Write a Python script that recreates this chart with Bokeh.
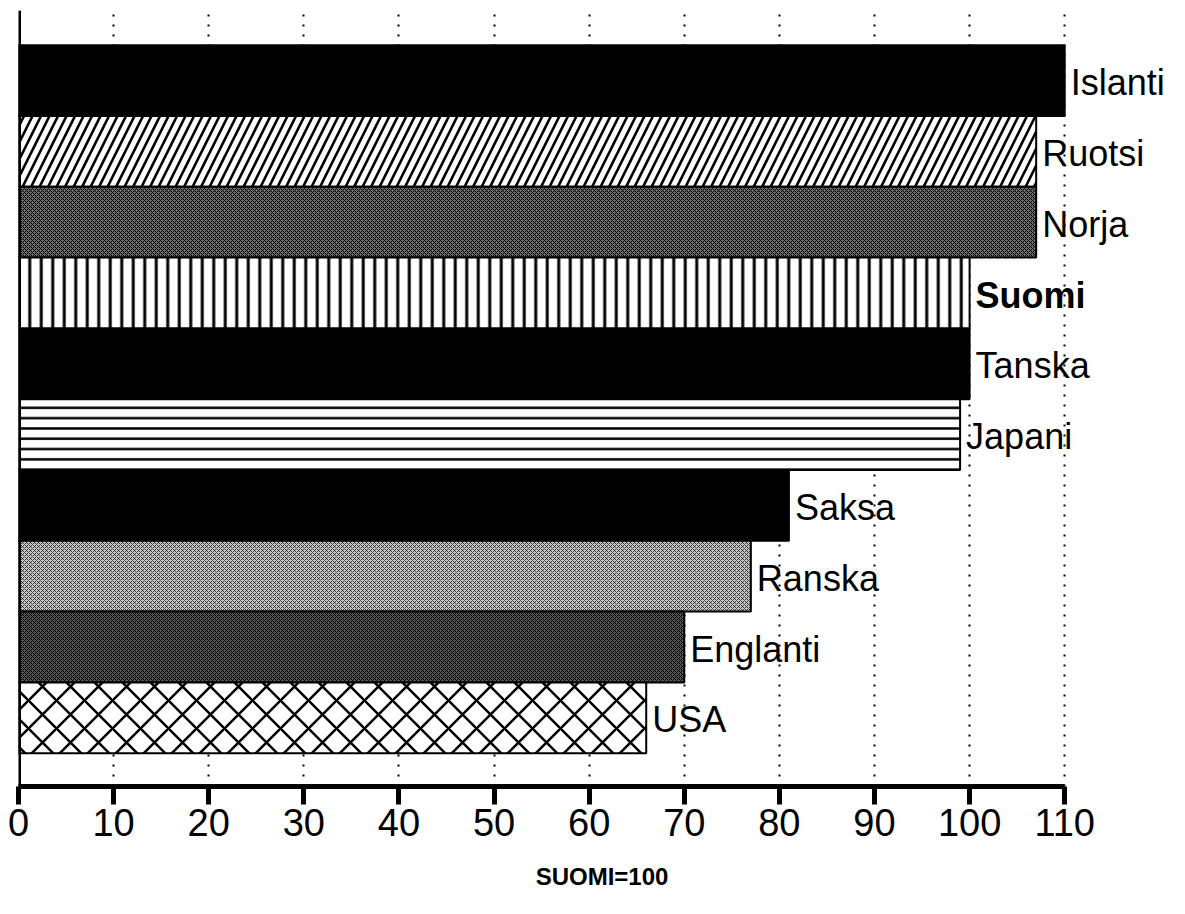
from bokeh.plotting import figure
from bokeh.models import ColumnDataSource, FixedTicker, Span, Range1d
from bokeh.core.properties import value
from bokeh.embed import file_html
from bokeh.resources import INLINE

# data (top to bottom)
countries = ["Islanti", "Ruotsi", "Norja", "Suomi", "Tanska", "Japani",
             "Saksa", "Ranska", "Englanti", "USA"]
values = [110, 107, 107, 100, 100, 99, 81, 77, 70, 66]
x_ticks = [0, 10, 20, 30, 40, 50, 60, 70, 80, 90, 100, 110]
axis_title = "SUOMI=100"

# styles
fills = ["black", "white", "#6e6e6e", "white", "black", "white",
         "black", "#c8c8c8", "#555555", "white"]
hatches = [" ", "/", "x", "|", " ", "-", " ", "x", "x", "x"]
hatch_scales = [12, 17, 4, 11.5, 12, 10.3, 12, 4, 4, 28]
hatch_weights = [1, 2.6, 1, 3, 1, 2.5, 1, 0.7, 1, 2.5]
font_styles = ["normal", "normal", "normal", "bold", "normal", "normal",
               "normal", "normal", "normal", "normal"]

n = len(countries)
ypos = [n - 1 - i for i in range(n)]

src = ColumnDataSource(dict(y=ypos, v=values, name=countries, fill=fills,
                            hatch=hatches, hs=hatch_scales, hw=hatch_weights,
                            fs=font_styles))

p = figure(width=1185, height=896, output_backend="svg", toolbar_location=None,
           x_range=Range1d(0, 122.7), y_range=Range1d(-0.97, 9.99),
           min_border_left=18, min_border_right=0, min_border_top=10,
           min_border_bottom=110)
p.outline_line_color = None
p.background_fill_color = "white"
p.border_fill_color = "white"

p.hbar(y="y", right="v", left=0, height=1, source=src, fill_color="fill",
       line_color="black", line_width=2, hatch_pattern="hatch",
       hatch_scale="hs", hatch_weight="hw", hatch_color="black")

p.text(x="v", y="y", text="name", source=src, x_offset=6, y_offset=2,
       text_baseline="middle", text_align="left",
       text_font=value("Liberation Sans"), text_font_size="36px",
       text_font_style="fs", text_color="black")

p.add_layout(Span(location=0, dimension="height", line_color="black",
                  line_width=5))

p.yaxis.visible = False
p.ygrid.visible = False

xa = p.xaxis[0]
xa.ticker = FixedTicker(ticks=x_ticks)
xa.bounds = (0, 110)
xa.axis_line_width = 5
xa.axis_line_color = "black"
xa.major_tick_line_width = 5
xa.major_tick_line_color = "black"
xa.major_tick_out = 18
xa.major_tick_in = 0
xa.minor_tick_line_color = None
xa.major_label_text_font = "Liberation Sans"
xa.major_label_text_font_size = "38px"
xa.major_label_text_color = "black"
xa.major_label_standoff = 4
xa.axis_label = axis_title
xa.axis_label_text_font = "Liberation Sans"
xa.axis_label_text_font_style = "bold"
xa.axis_label_text_font_size = "24px"
xa.axis_label_text_color = "black"
xa.axis_label_standoff = 24

p.xgrid.ticker = FixedTicker(ticks=x_ticks[1:])
p.xgrid.grid_line_color = "black"
p.xgrid.grid_line_width = 2
p.xgrid.grid_line_dash = "2 8"

open("out.html", "w").write(file_html(p, INLINE))
